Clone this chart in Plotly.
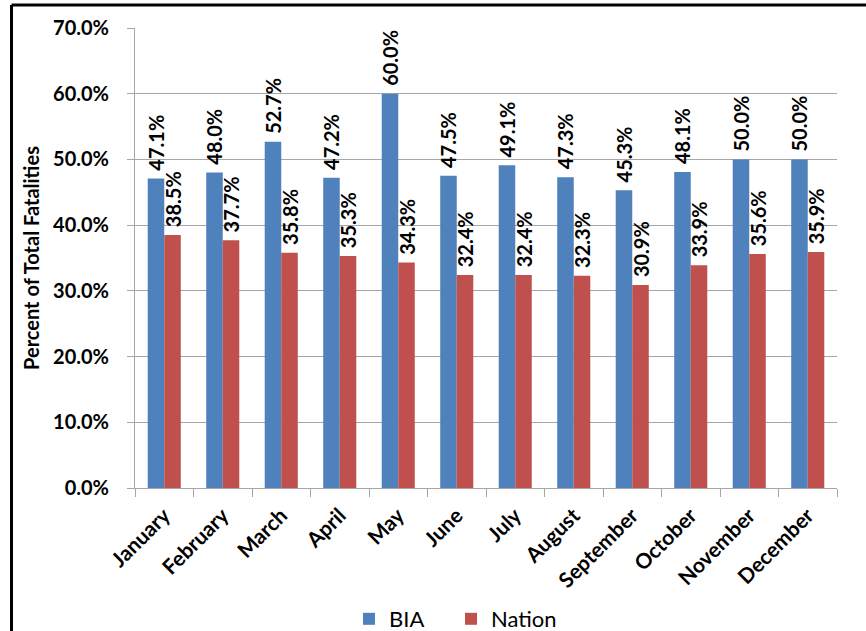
import plotly.graph_objects as go

months = ["January", "February", "March", "April", "May", "June", "July",
          "August", "September", "October", "November", "December"]
bia = [47.1, 48.0, 52.7, 47.2, 60.0, 47.5, 49.1, 47.3, 45.3, 48.1, 50.0, 50.0]
nation = [38.5, 37.7, 35.8, 35.3, 34.3, 32.4, 32.4, 32.3, 30.9, 33.9, 35.6, 35.9]
y_ticks = [0, 10, 20, 30, 40, 50, 60, 70]

FONT = "Lato"
W, H = 866, 631
ML, MR, MT, MB = 135, 29, 28, 143
PW, PH = W - ML - MR, H - MT - MB


def labels(vals):
    return ["\u00a0" + f"{v:.1f}%" for v in vals]


fig = go.Figure()
for name, vals, col, leg in [("BIA", bia, "#4F81BD", "legend"),
                             ("Nation", nation, "#C0504D", "legend2")]:
    fig.add_trace(go.Bar(
        name=name, x=months, y=vals, marker_color=col,
        marker_line_width=0, legend=leg,
        text=labels(vals), textposition="outside", textangle=-90,
        constraintext="none", cliponaxis=False,
        textfont=dict(family=FONT, size=20, color="black", weight="bold"),
    ))


def px_x(p):
    return (p - ML) / PW


def px_y(p):
    return (H - MB - p) / PH


def leg(xpx):
    return dict(orientation="h", x=xpx / W, xref="container",
                y=1 - 619 / H, yref="container", xanchor="left",
                yanchor="middle", font=dict(size=22, family=FONT),
                itemwidth=30, bgcolor="rgba(0,0,0,0)")


fig.update_layout(
    width=W, height=H,
    margin=dict(l=ML, r=MR, t=MT, b=MB, pad=0),
    paper_bgcolor="white", plot_bgcolor="white",
    barmode="group", bargap=0.435, bargroupgap=0,
    font=dict(family=FONT, color="black"),
    showlegend=True,
    legend=leg(349),
    legend2=leg(451),
    xaxis=dict(
        type="category", showgrid=False, showline=True, linecolor="#A6A6A6",
        linewidth=1, ticks="outside", tickson="boundaries", ticklen=8,
        tickcolor="#A6A6A6", tickangle=-45, automargin=False,
        ticklabelstandoff=6,
        tickfont=dict(family=FONT, size=21, weight="bold"),
    ),
    yaxis=dict(
        range=[0, 70], tickvals=y_ticks,
        ticktext=[f"{v:.1f}%" for v in y_ticks],
        showgrid=True, gridcolor="#A6A6A6", gridwidth=1,
        showline=True, linecolor="#A6A6A6", linewidth=1,
        ticks="outside", ticklen=7, tickcolor="#A6A6A6",
        ticklabelstandoff=14, zeroline=False, automargin=False,
        tickfont=dict(family=FONT, size=20, weight="bold"),
        title=dict(text="Percent of Total Fatalities", standoff=8,
                   font=dict(family=FONT, size=20, weight="bold")),
    ),
    shapes=[
        dict(type="line", xref="paper", yref="paper",
             x0=px_x(11.5), x1=px_x(11.5), y0=px_y(5), y1=px_y(640),
             line=dict(color="black", width=3)),
        dict(type="line", xref="paper", yref="paper",
             x0=px_x(11.5), x1=px_x(880), y0=px_y(5), y1=px_y(5),
             line=dict(color="black", width=3)),
    ],
)

fig.write_html(
    "out.html",
    config={"displayModeBar": False},
    post_script="document.body.style.margin='0';"
                "document.body.style.overflow='hidden';",
)
